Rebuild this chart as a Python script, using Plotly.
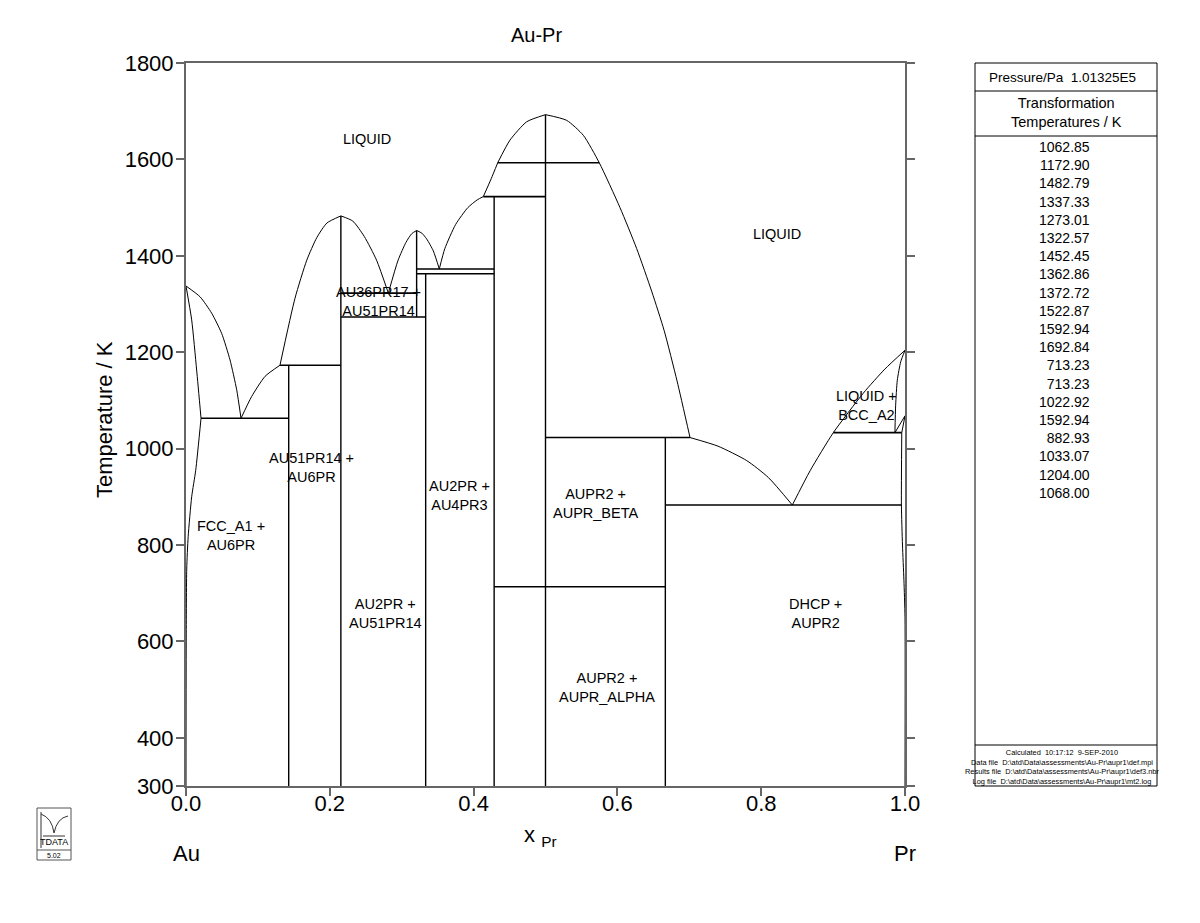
import plotly.graph_objects as go

# ---------------- data ----------------
chart_title = "Au-Pr"
pressure_text = "Pressure/Pa  1.01325E5"
panel_header = ["Transformation", "Temperatures / K"]
transformation_temperatures = [1062.85, 1172.90, 1482.79, 1337.33, 1273.01, 1322.57,
                               1452.45, 1362.86, 1372.72, 1522.87, 1592.94, 1692.84,
                               713.23, 713.23, 1022.92, 1592.94, 882.93, 1033.07,
                               1204.00, 1068.00]
footer_lines = ["Calculated  10:17:12  9-SEP-2010",
                r"Data file  D:\atd\Data\assessments\Au-Pr\aupr1\def.mpi",
                r"Results file  D:\atd\Data\assessments\Au-Pr\aupr1\def3.nbr",
                r"Log file  D:\atd\Data\assessments\Au-Pr\aupr1\mt2.log"]

x_ticks = [0.0, 0.2, 0.4, 0.6, 0.8, 1.0]
x_ticklabels = ["0.0", "0.2", "0.4", "0.6", "0.8", "1.0"]
y_ticks = [300, 400, 600, 800, 1000, 1200, 1400, 1600, 1800]

# stoichiometric compounds (vertical lines)
compound_x = [1/7, 14/65, 17/53, 1/3, 3/7, 1/2, 2/3]
compound_tmin = [300, 300, 1273.01, 300, 300, 300, 300]
compound_tmax = [1172.90, 1482.79, 1452.45, 1362.86, 1522.87, 1692.84, 1022.92]

# invariant horizontal lines
inv_T = [1062.85, 1172.90, 1322.57, 1273.01, 1372.72, 1362.86, 1522.87, 1592.94,
         713.23, 1022.92, 882.93, 1033.07]
inv_x0 = [0.0209, 0.1307, 0.2154, 0.2154, 0.3208, 0.3208, 0.4135, 0.4335,
          0.4286, 0.5, 0.6667, 0.9003]
inv_x1 = [0.1429, 0.2154, 0.3208, 0.3333, 0.4286, 0.4286, 0.5, 0.5748,
          0.6667, 0.701, 0.995, 0.9955]

# phase boundary curves
curves_x = [
    [0, 0.0195, 0.0357, 0.0496, 0.0612, 0.0705, 0.0765],
    [0.0765, 0.0913, 0.110, 0.1307],
    [0.1307, 0.1516, 0.168, 0.182, 0.196, 0.2154],
    [0.2154, 0.232, 0.248, 0.265, 0.2814],
    [0.2814, 0.295, 0.306, 0.314, 0.3208],
    [0.3208, 0.328, 0.3347, 0.344, 0.3523],
    [0.3523, 0.360, 0.375, 0.392, 0.405, 0.4135],
    [0.4135, 0.4245, 0.4335],
    [0.4335, 0.4506, 0.4738, 0.5],
    [0.5, 0.5295, 0.5526, 0.5748, 0.6036, 0.6268, 0.648, 0.665, 0.683, 0.701],
    [0.701, 0.74, 0.78, 0.81, 0.8433],
    [0.8433, 0.868, 0.9003, 0.942, 0.972, 1.0],
    [0, 0.0079, 0.0148, 0.0209],
    [0.0209, 0.0135, 0.0079, 0.003, 0.001, 0.0003, 0],
    [1.0, 0.994, 0.9893, 0.987, 0.986],
    [0.986, 1.0],
    [0.9955, 1.0],
    [0.9955, 0.995, 0.9965, 0.9985, 1.0, 1.0],
]
curves_T = [
    [1337.33, 1315, 1281, 1239, 1184, 1122, 1062.85],
    [1062.85, 1108, 1150, 1172.90],
    [1172.90, 1312, 1391, 1438, 1468, 1482.79],
    [1482.79, 1472, 1440, 1391, 1322.57],
    [1322.57, 1391, 1428, 1446, 1452.45],
    [1452.45, 1447, 1435, 1410, 1372.72],
    [1372.72, 1415, 1465, 1500, 1516, 1522.87],
    [1522.87, 1560, 1592.94],
    [1592.94, 1640, 1678, 1692.84],
    [1692.84, 1681, 1650, 1592.94, 1500, 1415, 1325, 1245, 1140, 1022.92],
    [1022.92, 1005, 975, 940, 882.93],
    [882.93, 954, 1033.07, 1115, 1165, 1204.00],
    [1337.33, 1267, 1163, 1062.85],
    [1062.85, 955, 900, 817, 750, 600, 300],
    [1204.00, 1180, 1142, 1090, 1033.07],
    [1033.07, 1068.00],
    [1033.07, 1068.00],
    [1033.07, 882.93, 800, 727, 650, 300],
]

# region labels
label_text = ["LIQUID", "LIQUID", "AU36PR17 +<br>AU51PR14", "AU51PR14 +<br>AU6PR",
              "AU2PR +<br>AU4PR3", "FCC_A1 +<br>AU6PR", "AUPR2 +<br>AUPR_BETA",
              "AU2PR +<br>AU51PR14", "DHCP +<br>AUPR2", "AUPR2 +<br>AUPR_ALPHA",
              "LIQUID +<br>BCC_A2"]
label_x = [0.252, 0.822, 0.268, 0.174, 0.381, 0.0626, 0.570, 0.277, 0.875, 0.586, 0.946]
label_T = [1642, 1445, 1306, 960, 902, 820, 887, 657, 657, 505, 1090]

# ---------------- figure ----------------
FONT = "Liberation Sans, Arial, sans-serif"
W, H = 1200, 923
L, R, T, B = 186, 905, 63, 786


def px(xp):
    return (xp - L) / (R - L)


def py(yp):
    return (B - yp) / (B - T)


def note(xp, yp, text, size, **kw):
    d = dict(x=px(xp), y=py(yp), xref="paper", yref="paper", text=text,
             showarrow=False, xanchor="center", yanchor="middle",
             font=dict(family=FONT, size=size, color="black"))
    d.update(kw)
    return d


fig = go.Figure()

for cx, cT in zip(curves_x, curves_T):
    smooth = len(cx) > 2
    fig.add_trace(go.Scatter(x=cx, y=cT, mode="lines",
                             line=dict(color="black", width=1,
                                       shape="spline" if smooth else "linear",
                                       smoothing=0.6),
                             hoverinfo="skip"))

vx, vy = [], []
for x, t0, t1 in zip(compound_x, compound_tmin, compound_tmax):
    vx += [x, x, None]
    vy += [t0, t1, None]
fig.add_trace(go.Scatter(x=vx, y=vy, mode="lines",
                         line=dict(color="black", width=1.4), hoverinfo="skip"))

hx, hy = [], []
for t, x0, x1 in zip(inv_T, inv_x0, inv_x1):
    hx += [x0, x1, None]
    hy += [t, t, None]
fig.add_trace(go.Scatter(x=hx, y=hy, mode="lines",
                         line=dict(color="black", width=1.6), hoverinfo="skip"))

annotations = []
for txt, x, t in zip(label_text, label_x, label_T):
    annotations.append(dict(x=x, y=t, xref="x", yref="y", text=txt, showarrow=False,
                            xanchor="center", yanchor="middle",
                            font=dict(family=FONT, size=14.5, color="black")))

# titles
annotations.append(note(536, 35, chart_title, 20))
annotations.append(note(104, 420, "Temperature / K", 22, textangle=-90))
annotations.append(note(540, 836, "x <sub>Pr</sub>", 22))
annotations.append(note(186, 853, "Au", 22))
annotations.append(note(905, 853, "Pr", 22))

# right panel texts
annotations.append(note(1062, 77, pressure_text, 13.5))
annotations.append(note(1066, 113, "<br>".join(panel_header), 14.5))
annotations.append(note(1092, 320.5,
                        "<br>".join(f"{v:.2f}" for v in transformation_temperatures), 14,
                        xanchor="right", align="right"))
annotations.append(note(1062, 766.5, "<br>".join(footer_lines), 7.4))

# logo texts
annotations.append(note(54, 842, "TDATA", 9))
annotations.append(note(54, 855.5, "5.02", 7))

shapes = []
line_k = dict(color="black", width=1)
# panel box
shapes.append(dict(type="rect", xref="paper", yref="paper", x0=px(975), x1=px(1157),
                   y0=py(786), y1=py(63), line=line_k))
for yy in (91, 136, 745):
    shapes.append(dict(type="line", xref="paper", yref="paper", x0=px(975), x1=px(1157),
                       y0=py(yy), y1=py(yy), line=line_k))
# logo
shapes.append(dict(type="rect", xref="paper", yref="paper", x0=px(37), x1=px(71),
                   y0=py(860), y1=py(808), line=dict(color="#555", width=1)))
shapes.append(dict(type="line", xref="paper", yref="paper", x0=px(37), x1=px(71),
                   y0=py(850), y1=py(850), line=dict(color="#555", width=1)))
shapes.append(dict(type="line", xref="paper", yref="paper", x0=px(43), x1=px(65),
                   y0=py(836), y1=py(836), line=dict(color="#333", width=1)))
shapes.append(dict(type="line", xref="paper", yref="paper", x0=px(41), x1=px(41),
                   y0=py(848), y1=py(812), line=dict(color="#333", width=1)))
shapes.append(dict(type="path", xref="paper", yref="paper",
                   path=f"M {px(41)},{py(814)} Q {px(52)},{py(818)} {px(54)},{py(833)} "
                        f"Q {px(57)},{py(818)} {px(68)},{py(816)}",
                   line=dict(color="#333", width=1)))

axis_common = dict(showgrid=False, zeroline=False, showline=True, linecolor="#666",
                   linewidth=2, ticks="outside", ticklen=8, tickwidth=1.5,
                   tickcolor="#666", tickfont=dict(family=FONT, size=22, color="black"))

fig.update_layout(
    width=W, height=H,
    margin=dict(l=L, r=W - R, t=T, b=H - B),
    paper_bgcolor="white", plot_bgcolor="white",
    showlegend=False,
    xaxis=dict(range=[0, 1], tickvals=x_ticks, ticktext=x_ticklabels, mirror=True,
               ticklabelstandoff=-11, **axis_common),
    yaxis=dict(range=[300, 1800], tickvals=y_ticks, mirror="ticks",
               ticklabelstandoff=-2, **axis_common),
    annotations=annotations,
    shapes=shapes,
)

fig.write_html("out.html")
